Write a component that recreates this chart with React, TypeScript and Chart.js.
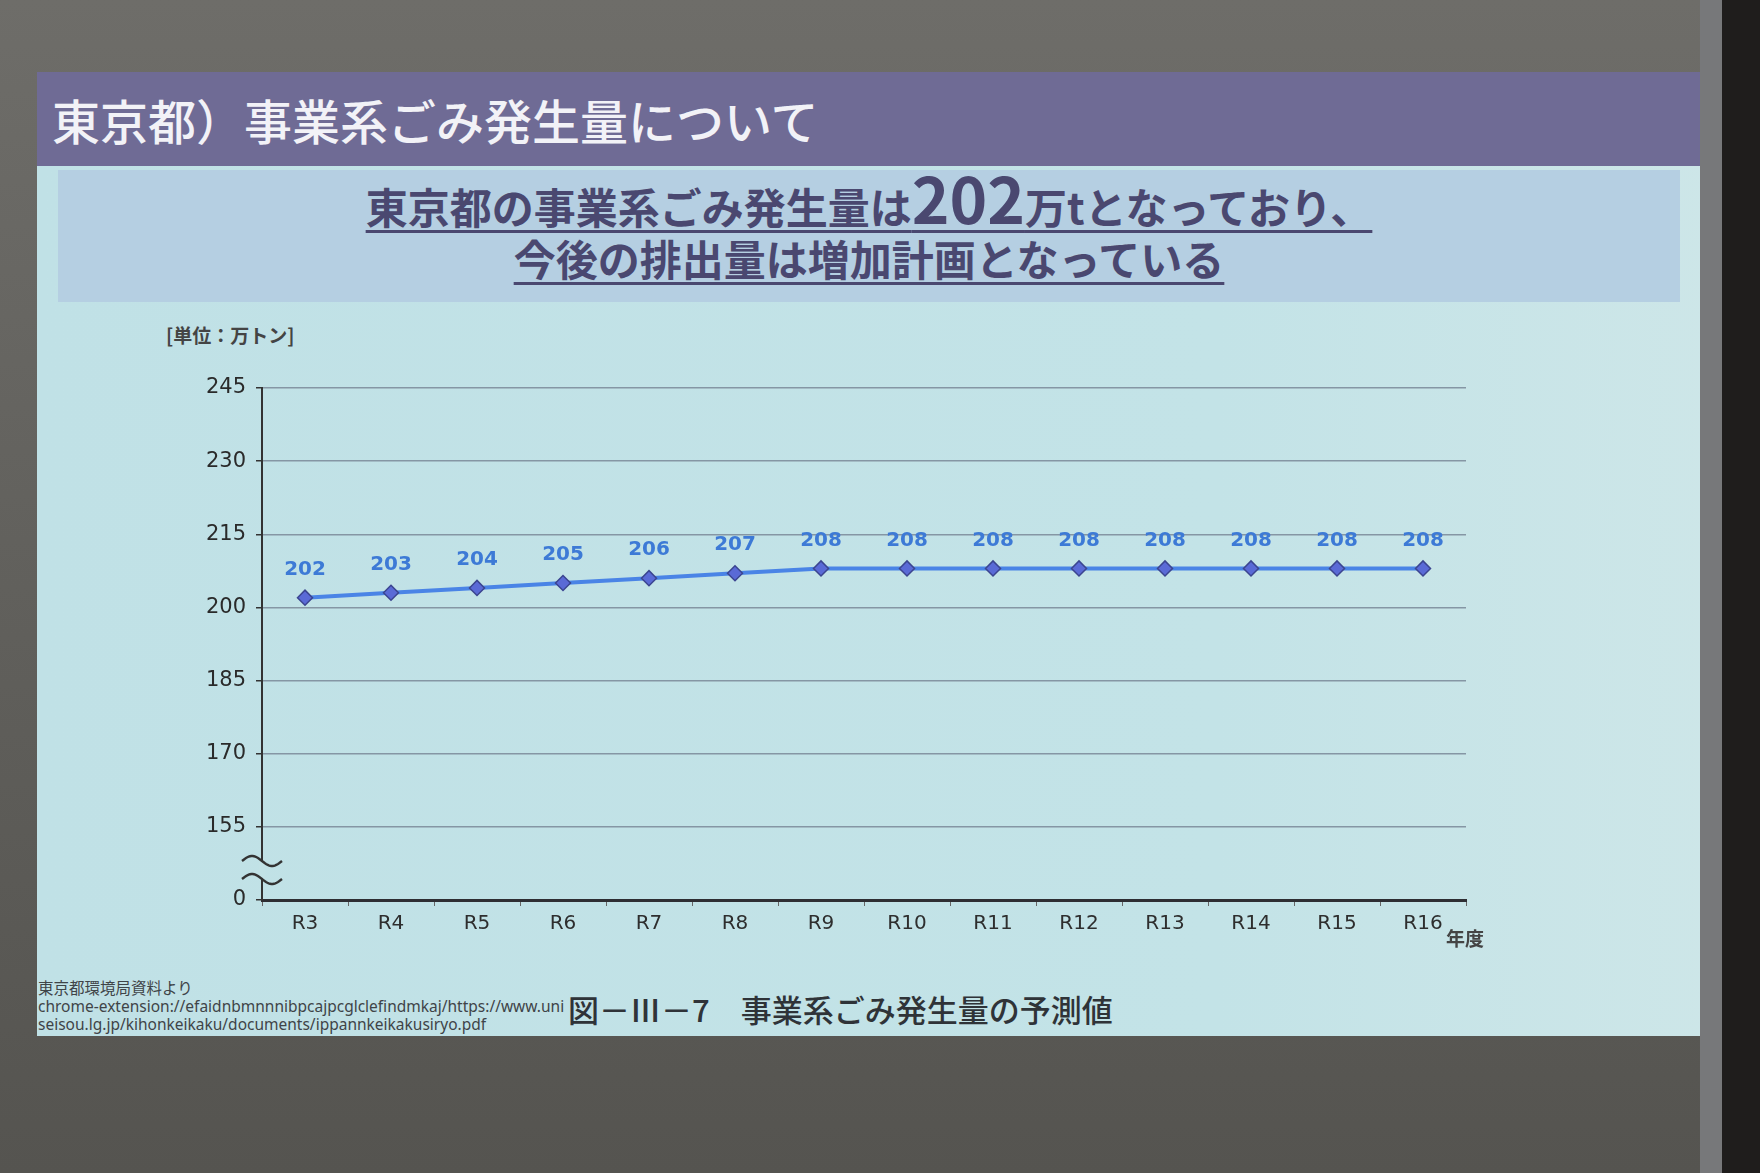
import React, { useEffect, useRef } from "react";
import { Chart, registerables } from "chart.js";

Chart.register(...registerables);

const categories = ["R3", "R4", "R5", "R6", "R7", "R8", "R9", "R10", "R11", "R12", "R13", "R14", "R15", "R16"];
const values = [202, 203, 204, 205, 206, 207, 208, 208, 208, 208, 208, 208, 208, 208];
const yTickValues = [140, 155, 170, 185, 200, 215, 230, 245];
const yTickLabels = ["0", "155", "170", "185", "200", "215", "230", "245"];
const breakValues = [148, 144.3];

const SLIDE_BG = "#c2e2e6";
const NUM_FONT = "'DejaVu Sans', 'Noto Sans', sans-serif";
const JP_FONT = "'Noto Sans CJK JP', 'Noto Sans', sans-serif";

const extrasPlugin = {
  id: "extras",
  afterDatasetsDraw(chart: any) {
    const { ctx } = chart;
    const meta = chart.getDatasetMeta(0);
    const yScale = chart.scales.y;
    const xAxisLeft = chart.chartArea.left;
    ctx.save();
    // data labels
    ctx.font = `bold 20px ${NUM_FONT}`;
    ctx.fillStyle = "#3d7ad6";
    ctx.textAlign = "center";
    ctx.textBaseline = "middle";
    meta.data.forEach((pt: any, i: number) => {
      ctx.fillText(String(values[i]), pt.x, pt.y - 28);
    });
    // axis break symbol
    const y1 = yScale.getPixelForValue(breakValues[0]);
    const y2 = yScale.getPixelForValue(breakValues[1]);
    const w = 20;
    const amp = 5;
    ctx.fillStyle = SLIDE_BG;
    ctx.fillRect(xAxisLeft - 3, y1 + 1, 6, y2 - y1 - 2);
    ctx.strokeStyle = "#333";
    ctx.lineWidth = 2.4;
    [y1, y2].forEach((yy) => {
      ctx.beginPath();
      for (let k = 0; k <= 30; k++) {
        const t = k / 30;
        const px = xAxisLeft - w + 2 * w * t;
        const py = yy - amp * Math.sin(t * Math.PI * 2);
        if (k === 0) ctx.moveTo(px, py);
        else ctx.lineTo(px, py);
      }
      ctx.stroke();
    });
    ctx.restore();
  },
};

function ChartBox() {
  const ref = useRef<HTMLCanvasElement | null>(null);
  useEffect(() => {
    if (!ref.current) return;
    const chart = new Chart(ref.current, {
      type: "line",
      data: {
        labels: categories,
        datasets: [
          {
            data: values,
            borderColor: "#4a84e6",
            borderWidth: 4,
            pointStyle: "rectRot",
            pointRadius: 7.5,
            pointBackgroundColor: "#5a6ad6",
            pointBorderColor: "#3b4590",
            pointBorderWidth: 1.5,
            tension: 0,
            fill: false,
          },
        ],
      },
      options: {
        animation: false,
        responsive: false,
        maintainAspectRatio: false,
        layout: { padding: { top: 68, right: 64, left: 0, bottom: 0 } },
        plugins: {
          legend: { display: false },
          tooltip: { enabled: false },
          title: { display: false },
        },
        scales: {
          x: {
            type: "category",
            offset: true,
            afterFit: (s: any) => {
              s.height = 75;
            },
            grid: {
              offset: true,
              drawOnChartArea: false,
              tickLength: 6,
              tickColor: "#666",
              lineWidth: 1,
            },
            border: { color: "#2e2e33", width: 3 },
            ticks: {
              color: "#2e2e2e",
              font: { size: 20, family: NUM_FONT },
              padding: 6,
              maxRotation: 0,
            },
          },
          y: {
            type: "linear",
            min: 140,
            max: 245,
            afterFit: (s: any) => {
              s.width = 112;
            },
            afterBuildTicks: (s: any) => {
              s.ticks = yTickValues.map((v) => ({ value: v }));
            },
            grid: {
              color: "#8596a4",
              lineWidth: 1.5,
              tickLength: 6,
              tickColor: "#333",
            },
            border: { color: "#333", width: 2 },
            ticks: {
              color: "#2a2a2a",
              font: { size: 21, family: NUM_FONT },
              padding: 10,
              callback: (v: any) => {
                const idx = yTickValues.indexOf(Number(v));
                return idx >= 0 ? yTickLabels[idx] : "";
              },
            },
          },
        },
      },
      plugins: [extrasPlugin],
    });
    return () => chart.destroy();
  }, []);
  return (
    <canvas
      ref={ref}
      width={1380}
      height={655}
      style={{ position: "absolute", left: 150, top: 320, width: 1380, height: 655 }}
    />
  );
}

export default function App() {
  useEffect(() => {
    document.body.style.margin = "0";
  }, []);
  const titleColor = "#4a4870";
  return (
    <div
      style={{
        position: "relative",
        width: 1760,
        height: 1173,
        overflow: "hidden",
        background: "linear-gradient(180deg, #6e6d69 0%, #61605c 50%, #555450 100%)",
        fontFamily: JP_FONT,
      }}
    >
      {/* slide */}
      <div
        style={{
          position: "absolute",
          left: 37,
          top: 72,
          width: 1685,
          height: 964,
          background: "linear-gradient(90deg, #c0e1e6 0%, #c3e3e7 70%, #cde6e8 100%)",
        }}
      />
      {/* wall strip and dark right edge */}
      <div style={{ position: "absolute", left: 1700, top: 0, width: 22, height: 1173, background: "#77787a" }} />
      <div style={{ position: "absolute", left: 1722, top: 0, width: 38, height: 1173, background: "#1f1d1c" }} />
      {/* header band */}
      <div
        style={{
          position: "absolute",
          left: 37,
          top: 72,
          width: 1663,
          height: 94,
          background: "#6f6b95",
        }}
      />
      <div
        style={{
          position: "absolute",
          left: 52,
          top: 89,
          fontSize: 48,
          fontWeight: 500,
          color: "#f2f2f7",
          whiteSpace: "nowrap",
          lineHeight: "60px",
        }}
      >
        東京都）事業系ごみ発生量について
      </div>
      {/* subtitle box */}
      <div
        style={{
          position: "absolute",
          left: 58,
          top: 170,
          width: 1622,
          height: 132,
          background: "#b5cfe2",
        }}
      />
      <div
        style={{
          position: "absolute",
          left: 58,
          top: 170,
          width: 1622,
          textAlign: "center",
          color: titleColor,
          fontWeight: 700,
          fontSize: 42,
          lineHeight: "52px",
          whiteSpace: "nowrap",
        }}
      >
        <div>
          <span style={{ textDecoration: "underline", textDecorationThickness: 3, textUnderlineOffset: 6 }}>
            東京都の事業系ごみ発生量は<span style={{ fontSize: 64, lineHeight: "52px" }}>202</span>万tとなっており、
          </span>
        </div>
        <div>
          <span style={{ textDecoration: "underline", textDecorationThickness: 3, textUnderlineOffset: 6 }}>
            今後の排出量は増加計画となっている
          </span>
        </div>
      </div>
      {/* unit label */}
      <div
        style={{
          position: "absolute",
          left: 166,
          top: 321,
          fontSize: 19,
          fontWeight: 700,
          color: "#444",
          whiteSpace: "nowrap",
        }}
      >
        [単位：万トン]
      </div>
      <ChartBox />
      {/* x axis title */}
      <div
        style={{
          position: "absolute",
          left: 1446,
          top: 924,
          fontSize: 19,
          fontWeight: 700,
          color: "#444",
          whiteSpace: "nowrap",
        }}
      >
        年度
      </div>
      {/* source */}
      <div
        style={{
          position: "absolute",
          left: 38,
          top: 978,
          fontSize: 15.5,
          lineHeight: "18.5px",
          color: "#3f4448",
          whiteSpace: "nowrap",
          fontFamily: "'Noto Sans', 'Noto Sans CJK JP', sans-serif",
        }}
      >
        <div style={{ fontFamily: JP_FONT }}>東京都環境局資料より</div>
        <div>chrome-extension://efaidnbmnnnibpcajpcglclefindmkaj/https://www.uni</div>
        <div>seisou.lg.jp/kihonkeikaku/documents/ippannkeikakusiryo.pdf</div>
      </div>
      {/* figure caption */}
      <div
        style={{
          position: "absolute",
          left: 568,
          top: 988,
          fontSize: 31,
          fontWeight: 500,
          color: "#2f3338",
          whiteSpace: "nowrap",
          lineHeight: "42px",
        }}
      >
        図－Ⅲ－7　事業系ごみ発生量の予測値
      </div>
    </div>
  );
}
